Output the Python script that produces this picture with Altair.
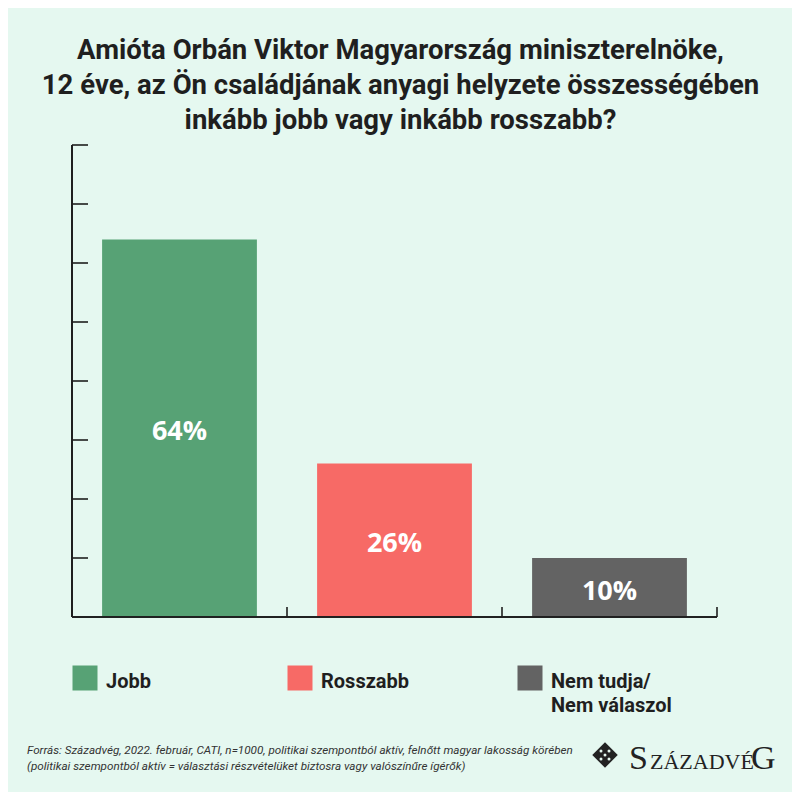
import altair as alt
import pandas as pd

# ---- data ----
categories = ["Jobb", "Rosszabb", "Nem tudja/Nem válaszol"]
legend_labels = ["Jobb", "Rosszabb", "Nem tudja/\nNem válaszol"]
values = [64, 26, 10]
value_labels = ["64%", "26%", "10%"]
colors = ["#57a275", "#f76a66", "#636363"]
y_ticks = [10, 20, 30, 40, 50, 60, 70, 80]

title_lines = [
    "Amióta Orbán Viktor Magyarország miniszterelnöke,",
    "12 éve, az Ön családjának anyagi helyzete összességében",
    "inkább jobb vagy inkább rosszabb?",
]
source_lines = [
    "Forrás: Századvég, 2022. február, CATI, n=1000, politikai szempontból aktív, felnőtt magyar lakosság körében",
    "(politikai szempontból aktív = választási részvételüket biztosra vagy valószínűre ígérők)",
]

W, H = 645, 472
BG = "#e5f8f0"
INK = "#1f1f1f"
SANS = "Roboto, 'Noto Sans', sans-serif"

df = pd.DataFrame({
    "cat": categories,
    "value": values,
    "label": value_labels,
    "legend": legend_labels,
})
ticks_df = pd.DataFrame({"t": y_ticks})

xs = alt.Scale(domain=categories, paddingInner=0, paddingOuter=0)
ys = alt.Scale(domain=[0, 80])
X = alt.X("cat:N", scale=xs, axis=None, sort=categories)
color = alt.Color("cat:N", scale=alt.Scale(domain=categories, range=colors), legend=None)

base = alt.Chart(df)

bars = base.mark_bar(width={"band": 0.72}).encode(
    x=X,
    y=alt.Y("value:Q", scale=ys, axis=None),
    color=color,
)

labels = base.transform_calculate(mid="datum.value / 2").mark_text(
    color="white", fontSize=27, fontWeight="bold", font="Open Sans", baseline="middle", dy=4
).encode(
    x=X,
    y=alt.Y("mid:Q", scale=ys, axis=None),
    text="label:N",
)

# axes drawn as rules
y_axis = base.mark_rule(color=INK, strokeWidth=1.6).encode(
    x=alt.value(0), y=alt.datum(0, scale=ys, axis=None), y2=alt.datum(80)
)
x_axis = base.mark_rule(color=INK, strokeWidth=1.6).encode(
    y=alt.datum(0, scale=ys, axis=None), x=alt.value(0), x2=alt.value(W)
)
y_tick_marks = alt.Chart(ticks_df).mark_rule(color=INK, strokeWidth=1.6).encode(
    y=alt.Y("t:Q", scale=ys, axis=None), x=alt.value(0), x2=alt.value(16)
)
x_tick_marks = base.mark_rule(color=INK, strokeWidth=1.6).encode(
    x=alt.X("cat:N", scale=xs, sort=categories, bandPosition=1, axis=None),
    y=alt.value(H - 10), y2=alt.value(H),
)

# legend: placed from each band's start (third item sits a bit further right, as in the original)
legend_base = base.transform_calculate(
    shift="datum.cat === 'Nem tudja/Nem válaszol' ? 28 : 13"
)
leg_sq = legend_base.mark_square(size=625, opacity=1).encode(
    x=X,
    xOffset=alt.XOffset("shift:Q", scale=None),
    y=alt.value(H + 61),
    color=color,
)
leg_txt = legend_base.mark_text(
    align="left", baseline="middle", fontSize=20, fontWeight="bold", font=SANS,
    color=INK, dx=21, lineBreak="\n", lineHeight=24,
).encode(
    x=X,
    xOffset=alt.XOffset("shift:Q", scale=None),
    y=alt.value(H + 65),
    text="legend:N",
)

# footer source
src1 = alt.Chart(pd.DataFrame({"line": [source_lines[0]]})).mark_text(
    align="left", baseline="middle", fontSize=11.7, fontStyle="italic", font=SANS, color="#333333"
).encode(x=alt.value(-45), y=alt.value(H + 133), text="line:N")
src2 = alt.Chart(pd.DataFrame({"line": [source_lines[1]]})).mark_text(
    align="left", baseline="middle", fontSize=11.7, fontStyle="italic", font=SANS, color="#333333"
).encode(x=alt.value(-45), y=alt.value(H + 149), text="line:N")

# logo
logo_mark = alt.Chart(pd.DataFrame({"a": [0]})).mark_point(
    shape="diamond", size=650, filled=True, color="#222222", opacity=1
).encode(x=alt.value(533), y=alt.value(H + 138))
logo_dots = alt.Chart(pd.DataFrame({"dx": [-4, 4, -4, 4, 0], "dy": [-4, -4, 4, 4, 0]})).mark_point(
    shape="circle", size=9, filled=True, color=BG, opacity=1
).encode(
    x=alt.X("dx:Q", scale=alt.Scale(domain=[-10, 10], range=[523, 543]), axis=None),
    y=alt.Y("dy:Q", scale=alt.Scale(domain=[-10, 10], range=[H + 128, H + 148]), axis=None),
)
logo_S = alt.Chart(pd.DataFrame({"t": ["S"]})).mark_text(
    align="left", baseline="alphabetic", font="Liberation Serif", fontSize=34, color="#222222"
).encode(x=alt.value(557), y=alt.value(H + 152), text="t:N")
logo_mid = alt.Chart(pd.DataFrame({"t": ["ZÁZADVÉ"]})).mark_text(
    align="left", baseline="alphabetic", font="Liberation Serif", fontSize=22, color="#222222"
).encode(x=alt.value(578), y=alt.value(H + 152), text="t:N")
logo_G = alt.Chart(pd.DataFrame({"t": ["G"]})).mark_text(
    align="left", baseline="alphabetic", font="Liberation Serif", fontSize=34, color="#222222"
).encode(x=alt.value(679), y=alt.value(H + 152), text="t:N")

chart = alt.layer(
    bars, labels, y_axis, x_axis, y_tick_marks, x_tick_marks, leg_sq, leg_txt,
    src1, src2, logo_mark, logo_dots, logo_S, logo_mid, logo_G,
).resolve_scale(y="independent", x="shared").properties(
    width=W,
    height=H,
    title=alt.Title(
        title_lines, anchor="middle", frame="group", fontSize=27.5, font=SANS,
        fontWeight="bold", color=INK, lineHeight=35, offset=10, dx=6,
    ),
    autosize=alt.AutoSizeParams(type="none"),
    padding={"left": 64, "top": 137, "right": 75, "bottom": 175},
).configure(background=BG).configure_view(stroke=None).configure_axis(disable=True)

chart.save("out.html", embed_options={"renderer": "svg", "actions": False})
